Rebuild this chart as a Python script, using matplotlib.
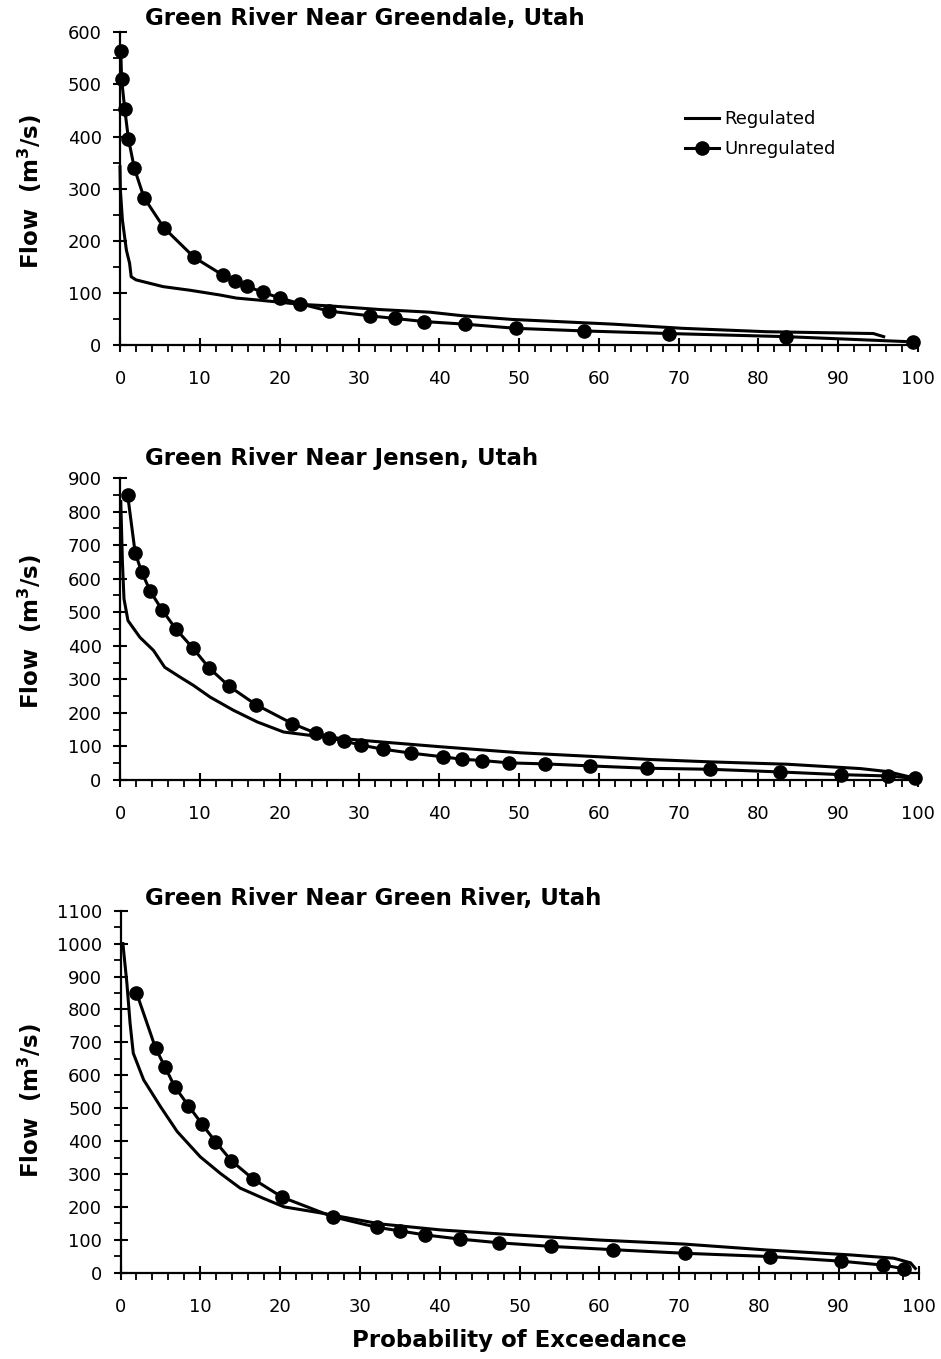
import matplotlib
matplotlib.use('Agg')
import matplotlib.pyplot as plt
from matplotlib.ticker import MultipleLocator

plt.rcParams['font.family'] = ['DejaVu Sans']

# Flow duration curves, flow in m3/s against percent of time exceeded
greendale_unreg_x = [0.1, 0.2, 0.6, 1.05, 1.8, 3.0, 5.5, 9.3, 12.9, 14.4, 15.9, 17.9, 20.1, 22.6,
                     26.2, 31.3, 34.4, 38.1, 43.2, 49.6, 58.1, 68.8, 83.5, 99.4]
greendale_unreg_y = [565, 510, 452, 396, 339, 283, 225, 168, 134, 123, 113, 101, 90, 79,
                     65, 56, 51, 45, 40, 32, 27, 22, 16, 6]
greendale_reg_x = [0.0, 0.05, 0.3, 0.8, 1.2, 1.4, 2.0, 5.4, 8.8, 12.5, 14.6, 17.5, 22.6, 26.3,
                   32.6, 38.8, 43.0, 49.2, 61.8, 70.5, 81.0, 94.4, 95.7]
greendale_reg_y = [342, 297, 240, 182, 157, 131, 125, 112, 105, 96, 90, 86, 78, 75,
                   68, 63, 56, 49, 40, 32, 25.5, 22, 16]

jensen_unreg_x = [0.96, 1.9, 2.7, 3.8, 5.3, 7.0, 9.1, 11.2, 13.7, 17.0, 21.6, 24.5, 26.2, 28.1,
                  30.2, 32.9, 36.5, 40.5, 42.8, 45.4, 48.8, 53.3, 58.9, 66.1, 73.9, 82.7,
                  90.3, 96.2, 99.6]
jensen_unreg_y = [849, 677, 621, 562, 506, 450, 394, 333, 279, 225, 168, 140, 126, 116,
                  104, 92, 80, 69, 62, 58, 51, 48, 42, 35, 32, 24, 16, 12, 5]
jensen_reg_x = [0.1, 0.3, 0.5, 1.0, 2.5, 4.2, 5.6, 7.5, 9.2, 11.3, 14.2, 17.2, 20.5, 24.5,
                30.9, 40.2, 50.2, 60.2, 66.5, 74.0, 83.6, 92.8, 96.2, 99.7]
jensen_reg_y = [830, 650, 540, 475, 425, 386, 336, 307, 282, 247, 208, 173, 143, 131,
                117, 99, 81, 69, 61, 54, 47, 34, 25, 5]

greenriver_unreg_x = [2.0, 4.4, 5.6, 6.8, 8.5, 10.2, 11.9, 13.9, 16.6, 20.3, 26.6, 32.1, 35.0,
                      38.1, 42.6, 47.4, 53.9, 61.7, 70.7, 81.4, 90.3, 95.6, 98.2]
greenriver_unreg_y = [851, 682, 624, 565, 508, 452, 398, 340, 285, 229, 170, 138, 127,
                      115, 102, 91, 80, 70, 59, 49, 35, 23, 12]
greenriver_reg_x = [0.3, 0.8, 1.2, 1.6, 2.9, 5.0, 7.1, 10.0, 12.5, 15.0, 17.9, 20.5, 25.0,
                    32.6, 40.1, 49.3, 60.2, 70.6, 81.0, 91.5, 96.9, 99.0, 99.6]
greenriver_reg_y = [1000, 880, 758, 667, 586, 505, 429, 352, 302, 257, 226, 200, 182,
                    148, 130, 115, 99, 87, 69, 54, 44, 30, 13]

titles = ['Green River Near Greendale, Utah',
          'Green River Near Jensen, Utah',
          'Green River Near Green River, Utah']
y_tops = [600, 900, 1100]

W, H = 941, 1359
fig = plt.figure(figsize=(W / 100, H / 100), dpi=100)

# axes rectangles in pixels: (left, top, right, bottom)
rects = [(120, 32.3, 918, 345), (120, 478, 918, 780), (120.5, 910.7, 918.5, 1272.7)]
title_y = [18, 458, 898]
ylabel_y = [191, 631, 1100]

panels = [
    (greendale_reg_x, greendale_reg_y, greendale_unreg_x, greendale_unreg_y),
    (jensen_reg_x, jensen_reg_y, jensen_unreg_x, jensen_unreg_y),
    (greenriver_reg_x, greenriver_reg_y, greenriver_unreg_x, greenriver_unreg_y),
]

axes = []
for i, (rx, ry, ux, uy) in enumerate(panels):
    l, t, r, b = rects[i]
    ax = fig.add_axes([l / W, 1 - b / H, (r - l) / W, (b - t) / H])
    axes.append(ax)
    ax.plot(rx, ry, color='black', lw=2.2, label='Regulated', clip_on=False, zorder=3)
    ax.plot(ux, uy, color='black', lw=2.2, marker='o', ms=9.5, label='Unregulated',
            clip_on=False, zorder=4)
    ax.set_xlim(0, 100)
    ax.set_ylim(0, y_tops[i])
    ax.xaxis.set_major_locator(MultipleLocator(10))
    ax.xaxis.set_minor_locator(MultipleLocator(2))
    ax.yaxis.set_major_locator(MultipleLocator(100))
    ax.yaxis.set_minor_locator(MultipleLocator(50))
    for side in ('top', 'right'):
        ax.spines[side].set_visible(False)
    for side in ('left', 'bottom'):
        ax.spines[side].set_linewidth(1.6)
    ax.tick_params(axis='both', which='major', direction='inout', length=10.5, width=1.5,
                   labelsize=13)
    ax.tick_params(axis='both', which='minor', direction='out', length=5, width=1.3)
    ax.tick_params(axis='x', which='major', pad=13)
    ax.tick_params(axis='y', which='major', pad=8)

    fig.text(145 / W, 1 - title_y[i] / H, titles[i], fontsize=16.5, fontweight='bold',
             ha='left', va='center')
    fig.text(30 / W, 1 - ylabel_y[i] / H, 'Flow  (m$^\\mathbf{3}$/s)', fontsize=16.5,
             fontweight='bold', rotation=90, ha='center', va='center')

axes[0].legend(loc='upper left', bbox_to_anchor=(0.708, 0.75), frameon=False,
               fontsize=13, handlelength=1.9, handletextpad=0.3, labelspacing=0.65,
               borderpad=0, borderaxespad=0)

fig.text(519 / W, 1 - 1340 / H, 'Probability of Exceedance', fontsize=16.5,
         fontweight='bold', ha='center', va='center')

fig.savefig('out.png', dpi=100)
